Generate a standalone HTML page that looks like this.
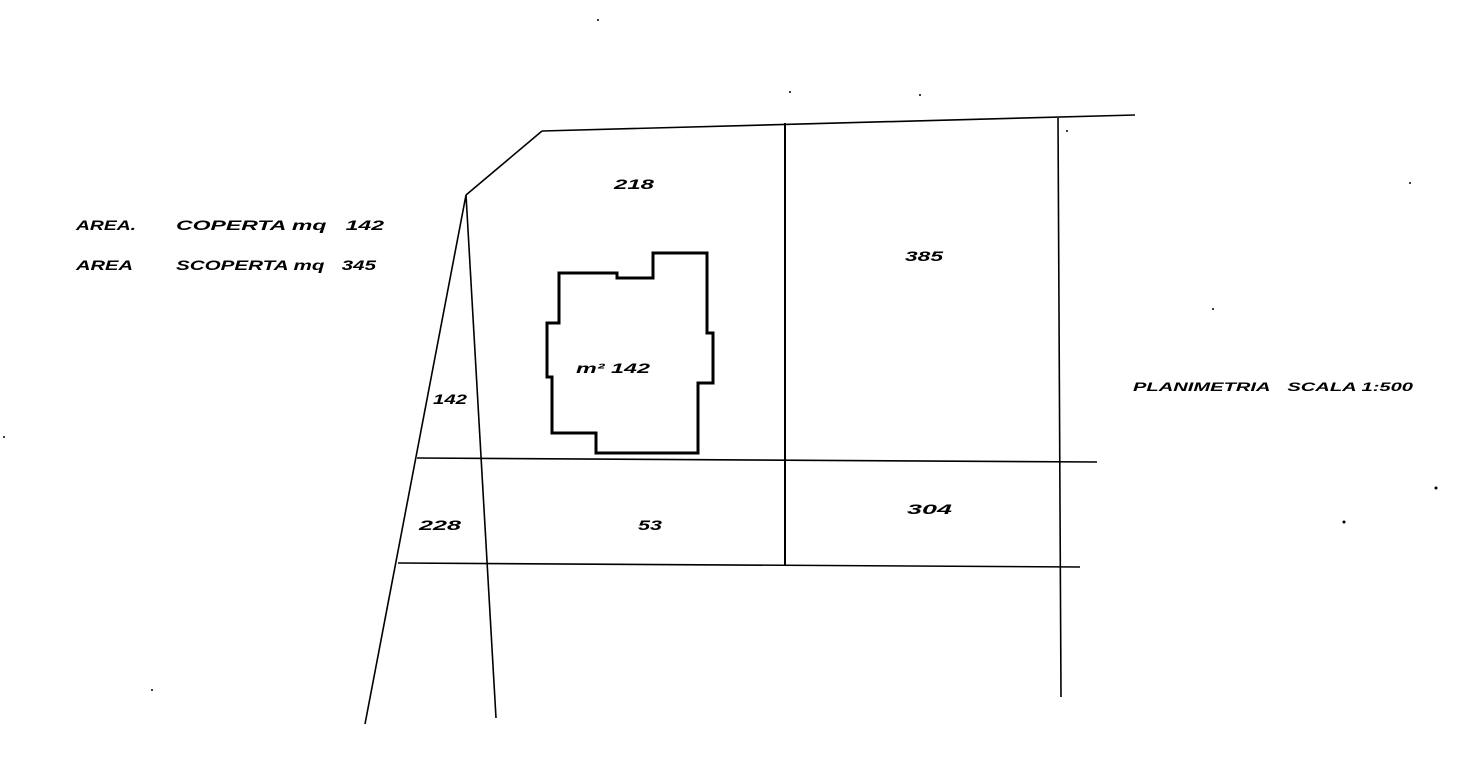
<!DOCTYPE html>
<html><head><meta charset="utf-8"><style>
html,body{margin:0;padding:0;background:#fff;}
svg{display:block;}
text{font-family:"Liberation Sans",sans-serif;font-weight:bold;font-style:italic;fill:#000;}
</style></head><body>
<svg width="1484" height="774" viewBox="0 0 1484 774" xmlns="http://www.w3.org/2000/svg">
<g stroke="#000" stroke-width="1.6" fill="none">
<line x1="542" y1="131" x2="1135" y2="115"/>
<line x1="542" y1="131" x2="466" y2="195"/>
<line x1="466" y1="195" x2="365" y2="724"/>
<line x1="466" y1="195" x2="496" y2="718"/>
<line x1="785" y1="123" x2="785" y2="566" stroke-width="2"/>
<line x1="1058" y1="118" x2="1061" y2="697"/>
<line x1="417" y1="458" x2="1097" y2="462"/>
<line x1="398" y1="563" x2="1080" y2="567"/>
<polygon stroke-width="3" points="559,273 617,273 617,278 653,278 653,253 707,253 707,333 713,333 713,383 698,383 698,453 596,453 596,433 552,433 552,377 547,377 547,323 559,323"/>
</g>
<g fill="#000">
<circle cx="598" cy="20" r="1"/><circle cx="790" cy="92" r="1"/><circle cx="920" cy="95" r="1"/>
<circle cx="1410" cy="183" r="1"/><circle cx="1213" cy="309" r="1"/><circle cx="1067" cy="131" r="1"/>
<circle cx="1436" cy="488" r="1.5"/><circle cx="1344" cy="522" r="1.5"/><circle cx="4" cy="437" r="1"/>
<circle cx="152" cy="690" r="1"/>
</g>
<g font-size="14">
<text x="76" y="230" textLength="60" lengthAdjust="spacingAndGlyphs">AREA.</text>
<text x="176" y="230" textLength="208" lengthAdjust="spacingAndGlyphs">COPERTA mq&#160;&#160; 142</text>
<text x="76" y="270" textLength="57" lengthAdjust="spacingAndGlyphs">AREA</text>
<text x="176" y="270" textLength="200" lengthAdjust="spacingAndGlyphs">SCOPERTA mq&#160;&#160; 345</text>
<text x="614" y="189" textLength="40" lengthAdjust="spacingAndGlyphs">218</text>
<text x="905" y="261" textLength="38" lengthAdjust="spacingAndGlyphs">385</text>
<text x="576" y="373" textLength="74" lengthAdjust="spacingAndGlyphs">m² 142</text>
<text x="433" y="404" textLength="34" lengthAdjust="spacingAndGlyphs">142</text>
<text x="419" y="530" textLength="42" lengthAdjust="spacingAndGlyphs">228</text>
<text x="638" y="530" textLength="24" lengthAdjust="spacingAndGlyphs">53</text>
<text x="907" y="514" textLength="45" lengthAdjust="spacingAndGlyphs">304</text>
<text x="1133" y="391" font-size="12" textLength="280" lengthAdjust="spacingAndGlyphs">PLANIMETRIA&#160;&#160; SCALA 1:500</text>
</g>
</svg>
</body></html>
